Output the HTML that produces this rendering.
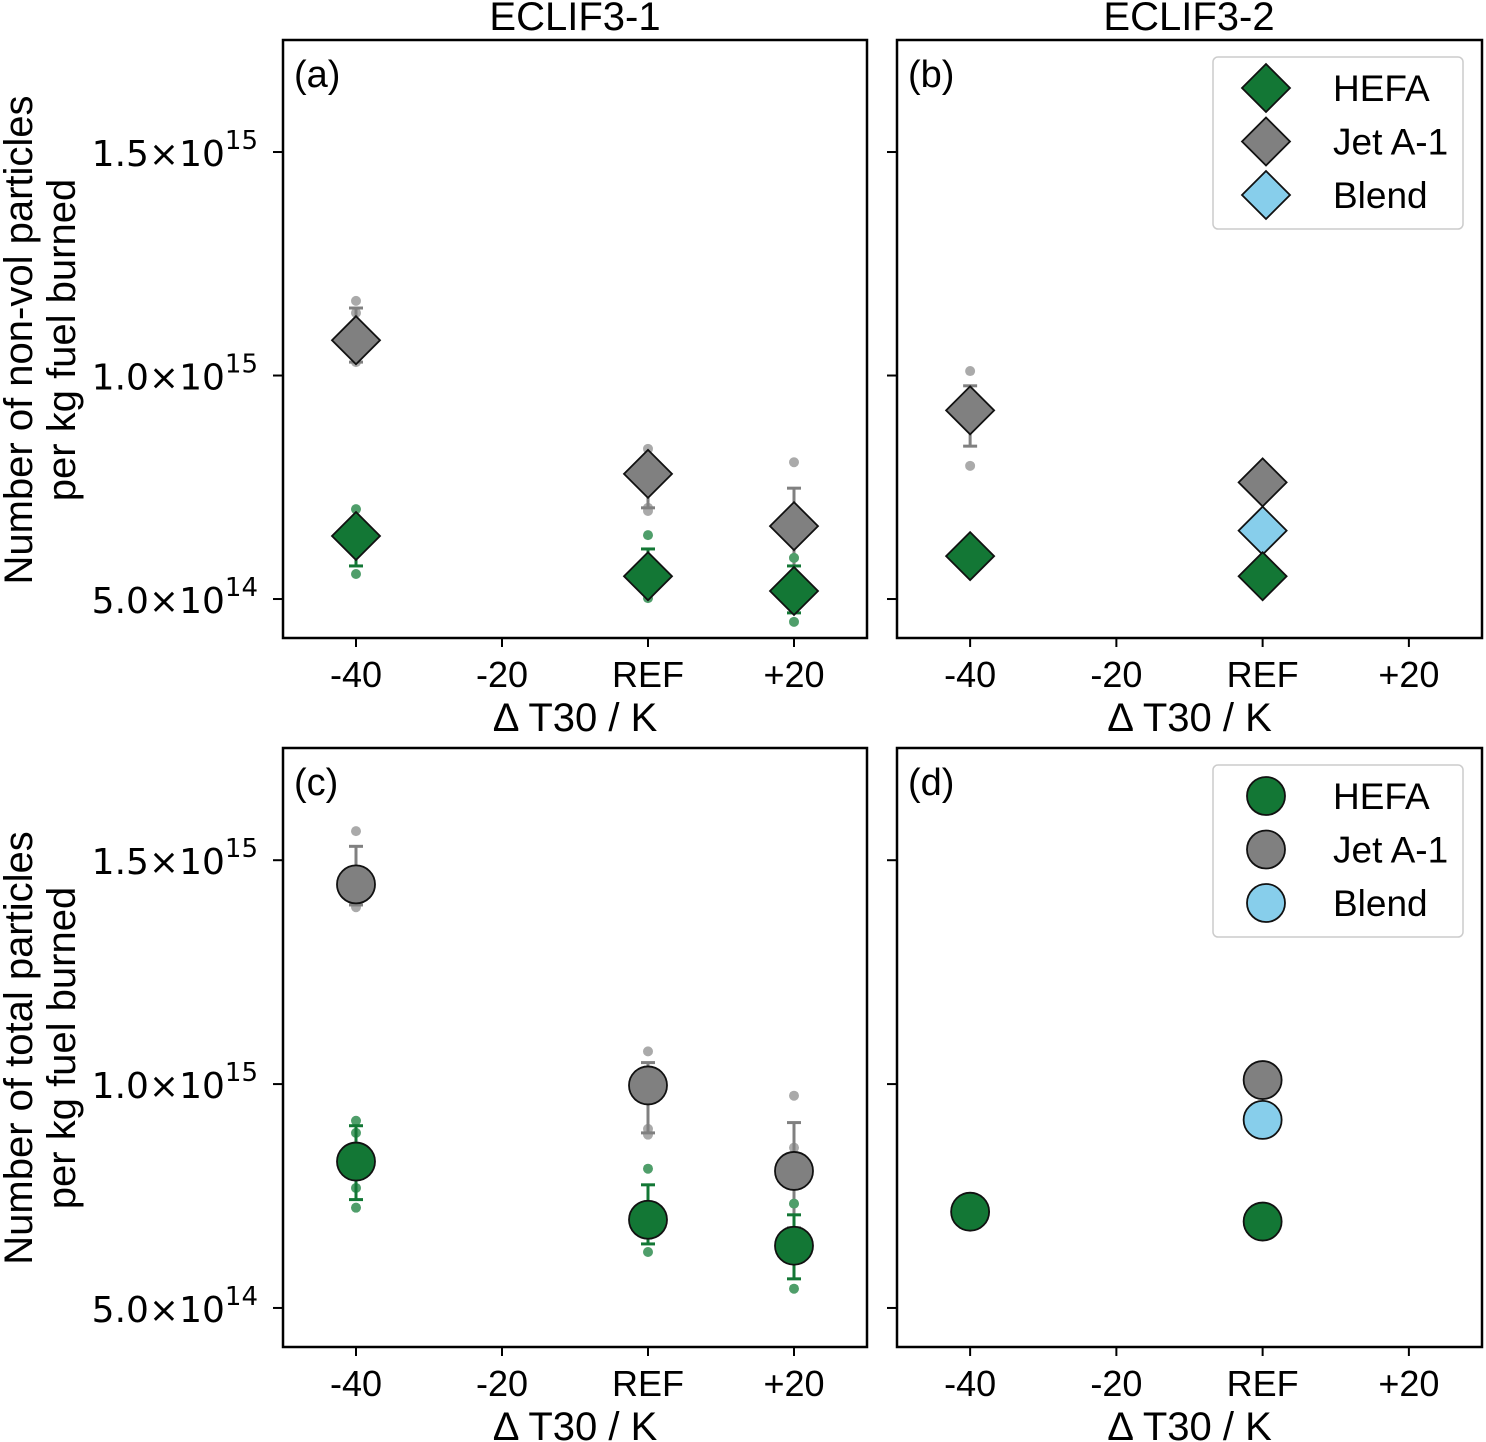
<!DOCTYPE html>
<html><head><meta charset="utf-8"><style>
html,body{margin:0;padding:0;background:#fff;}
svg{display:block;}
text{font-family:"Liberation Sans","DejaVu Sans",sans-serif;fill:#000;}
.tk{font-family:"DejaVu Sans","Liberation Sans",sans-serif;font-size:36px;}
</style></head><body>
<svg id="fig" width="1486" height="1442" viewBox="0 0 1486 1442" xmlns="http://www.w3.org/2000/svg">
<g id="root"></g>
</svg>
<script>
// x positions in K relative to REF
const xTickVals = [-40, -20, 0, 20];
const xTickLabels = ["-40", "-20", "REF", "+20"];
const yTickVals = [0.5, 1.0, 1.5];
const yTickMant = ["5.0", "1.0", "1.5"];
const yTickExp = ["14", "15", "15"];
const fuels = ["HEFA", "Jet A-1", "Blend"];
const fuelColors = ["#137735", "#808080", "#87ceeb"];
const dotColors = ["#4f9e6a", "#aaaaaa", "#87ceeb"];
// values in 1e15 per kg; panel a (non-vol, ECLIF3-1)
const aFuel = [1, 0, 1, 0, 1, 0];
const aX = [-40, -40, 0, 0, 20, 20];
const aMean = [1.079, 0.641, 0.780, 0.551, 0.663, 0.518];
const aLo = [1.03, 0.574, 0.704, 0.53, 0.551, 0.469];
const aHi = [1.151, 0.66, 0.80, 0.612, 0.748, 0.574];
const aDots = [[1.167, 1.14, 1.03], [0.701, 0.556], [0.836, 0.704, 0.697], [0.643, 0.502], [0.806, 0.592], [0.592, 0.449]];
// panel b (non-vol, ECLIF3-2)
const bFuel = [1, 0, 1, 2, 0];
const bX = [-40, -40, 0, 0, 0];
const bMean = [0.922, 0.596, 0.761, 0.653, 0.551];
const bLo = [0.842, 0.596, 0.761, 0.653, 0.551];
const bHi = [0.977, 0.596, 0.761, 0.653, 0.551];
const bDots = [[1.010, 0.798], [], [], [], []];
// panel c (total, ECLIF3-1)
const cFuel = [1, 0, 1, 0, 1, 0];
const cX = [-40, -40, 0, 0, 20, 20];
const cMean = [1.446, 0.827, 0.997, 0.697, 0.806, 0.639];
const cLo = [1.40, 0.742, 0.891, 0.643, 0.679, 0.565];
const cHi = [1.531, 0.907, 1.048, 0.775, 0.914, 0.708];
const cDots = [[1.565, 1.395], [0.918, 0.891, 0.768, 0.724], [1.073, 0.900, 0.887], [0.811, 0.625], [0.974, 0.858, 0.733], [0.733, 0.543]];
// panel d (total, ECLIF3-2)
const dFuel = [0, 1, 2, 0];
const dX = [-40, 0, 0, 0];
const dMean = [0.715, 1.009, 0.92, 0.693];
const dLo = [0.715, 1.009, 0.92, 0.693];
const dHi = [0.715, 1.009, 0.92, 0.693];
const dDots = [[0.74, 0.69], [], [], []];

const NS = "http://www.w3.org/2000/svg";
const root = document.getElementById("root");
function mk(tag, attrs, parent) {
  const e = document.createElementNS(NS, tag);
  for (const k in attrs) e.setAttribute(k, attrs[k]);
  (parent || root).appendChild(e);
  return e;
}
const X0 = -50, X1 = 30, Y0 = 0.4128, Y1 = 1.7506;

function panel(px, py, w, h, letter, fuel, xs, mean, lo, hi, dots, shape, showYLabels, legend, name) {
  const g = mk("g", {});
  
  
  const sx = v => px + (v - X0) / (X1 - X0) * w;
  const sy = v => py + h - (v - Y0) / (Y1 - Y0) * h;
  for (let i = 0; i < mean.length; i++) {
    const cx = sx(xs[i]), f = fuel[i];
    const dg = mk("g", {}, g);
    
    
    for (const d of dots[i]) {
      mk("circle", {cx: cx, cy: sy(d), r: 5, fill: dotColors[f]}, dg);
    }
    if (hi[i] !== lo[i]) {
      const eg = mk("g", {stroke: f === 0 ? "#137735" : "#808080", "stroke-width": 3}, g);
      
      
      mk("line", {x1: cx, x2: cx, y1: sy(lo[i]), y2: sy(hi[i])}, eg);
      mk("line", {x1: cx - 7, x2: cx + 7, y1: sy(lo[i]), y2: sy(lo[i])}, eg);
      mk("line", {x1: cx - 7, x2: cx + 7, y1: sy(hi[i]), y2: sy(hi[i])}, eg);
    }
  }
  for (let i = 0; i < mean.length; i++) {
    const cx = sx(xs[i]), cy = sy(mean[i]), f = fuel[i];
    let m;
    if (shape === "d") {
      const r = 24;
      m = mk("polygon", {points: `${cx},${cy - r} ${cx + r},${cy} ${cx},${cy + r} ${cx - r},${cy}`, fill: fuelColors[f], stroke: "#111", "stroke-width": 1.8}, g);
    } else {
      m = mk("circle", {cx: cx, cy: cy, r: 19, fill: fuelColors[f], stroke: "#111", "stroke-width": 1.8}, g);
    }
    
    
  }
  const fr = mk("rect", {x: px, y: py, width: w, height: h, fill: "none", stroke: "#000", "stroke-width": 2.5}, g);
  
  
  for (let i = 0; i < xTickVals.length; i++) {
    const x = sx(xTickVals[i]);
    mk("line", {x1: x, x2: x, y1: py + h, y2: py + h + 9, stroke: "#000", "stroke-width": 2}, g);
    const t = mk("text", {x: x, y: py + h + 49, "text-anchor": "middle", "font-size": 36}, g);
    t.textContent = xTickLabels[i];
    
    
  }
  const xt = mk("text", {x: px + w / 2, y: py + h + 93, "text-anchor": "middle", "font-size": 40}, g);
  xt.textContent = "Δ T30 / K";
  
  
  for (let i = 0; i < yTickVals.length; i++) {
    const y = sy(yTickVals[i]);
    mk("line", {x1: px - 10, x2: px, y1: y, y2: y, stroke: "#000", "stroke-width": 2}, g);
    if (showYLabels) {
      const t = mk("text", {x: px - 25, y: y + 14, "text-anchor": "end", class: "tk"}, g);
      
      
      const s1 = mk("tspan", {}, t); s1.textContent = yTickMant[i] + "×10";
      const s2 = mk("tspan", {dy: -17, "font-size": 26}, t); s2.textContent = yTickExp[i];
    }
  }
  const lt = mk("text", {x: px + 11, y: py + 47, "font-size": 38}, g);
  lt.textContent = "(" + letter + ")";
  
  
  if (legend) {
    const lg = mk("g", {}, g);
    
    
    mk("rect", {x: px + 316, y: py + 17, width: 250, height: 172, rx: 5, fill: "#fff", stroke: "#ccc", "stroke-width": 1.5}, lg);
    for (let f = 0; f < 3; f++) {
      const cy = py + 48 + f * 53.5, cx = px + 369;
      const e = mk("g", {}, lg);
      
      
      if (shape === "d") {
        const r = 24;
        mk("polygon", {points: `${cx},${cy - r} ${cx + r},${cy} ${cx},${cy + r} ${cx - r},${cy}`, fill: fuelColors[f], stroke: "#111", "stroke-width": 1.8}, e);
      } else {
        mk("circle", {cx: cx, cy: cy, r: 19, fill: fuelColors[f], stroke: "#111", "stroke-width": 1.8}, e);
      }
      const t = mk("text", {x: px + 436, y: cy + 13, "font-size": 37}, e);
      t.textContent = fuels[f];
    }
  }
}
panel(283, 40, 584, 598, "a", aFuel, aX, aMean, aLo, aHi, aDots, "d", true, false, "panel-a");
panel(897, 40, 585, 598, "b", bFuel, bX, bMean, bLo, bHi, bDots, "d", false, true, "panel-b");
panel(283, 748, 584, 599, "c", cFuel, cX, cMean, cLo, cHi, cDots, "o", true, false, "panel-c");
panel(897, 748, 585, 599, "d", dFuel, dX, dMean, dLo, dHi, dDots, "o", false, true, "panel-d");

function txt(x, y, s, size, name, rot) {
  const t = mk("text", {x: x, y: y, "text-anchor": "middle", "font-size": size});
  if (rot) t.setAttribute("transform", `rotate(-90 ${x} ${y})`);
  t.textContent = s;
  
  
}
txt(575, 30, "ECLIF3-1", 40, "column-title-eclif3-1");
txt(1189, 30, "ECLIF3-2", 40, "column-title-eclif3-2");
txt(32, 340, "Number of non-vol particles", 40, "y-axis-title-top", true);
txt(75, 340, "per kg fuel burned", 40, "y-axis-title-top-line2", true);
txt(32, 1048, "Number of total particles", 40, "y-axis-title-bottom", true);
txt(75, 1048, "per kg fuel burned", 40, "y-axis-title-bottom-line2", true);
</script>
</body></html>
